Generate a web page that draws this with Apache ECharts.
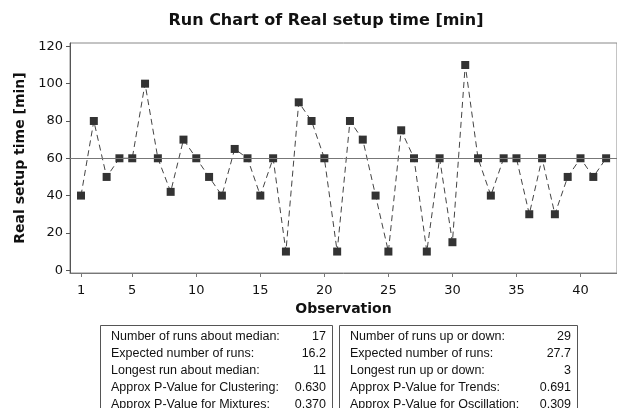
<!DOCTYPE html>
<html><head><meta charset="utf-8">
<script src="https://cdn.jsdelivr.net/npm/echarts@6/dist/echarts.min.js"></script>
<style>html,body{margin:0;padding:0;background:#fff}#c{width:617px;height:408px}</style>
</head><body><div id="c"></div>
<script>
const observations = [1,2,3,4,5,6,7,8,9,10,11,12,13,14,15,16,17,18,19,20,21,22,23,24,25,26,27,28,29,30,31,32,33,34,35,36,37,38,39,40,41,42];
const setupTime = [40,80,50,60,60,100,60,42,70,60,50,40,65,60,40,60,10,90,80,60,10,80,70,40,10,75,60,10,60,15,110,60,40,60,60,30,60,30,50,60,50,60];
const medianValue = 60;
const xTicks = [1,5,10,15,20,25,30,35,40];
const yTicks = [0,20,40,60,80,100,120];
const leftStatsLabels = ["Number of runs about median:","Expected number of runs:","Longest run about median:","Approx P-Value for Clustering:","Approx P-Value for Mixtures:"];
const leftStatsValues = ["17","16.2","11","0.630","0.370"];
const rightStatsLabels = ["Number of runs up or down:","Expected number of runs:","Longest run up or down:","Approx P-Value for Trends:","Approx P-Value for Oscillation:"];
const rightStatsValues = ["29","27.7","3","0.691","0.309"];

const chart = echarts.init(document.getElementById('c'), null, {renderer:'canvas'});
const FONT = 'DejaVu Sans';
const BOXFONT = 'Liberation Sans';

function statsBox(x, w, labels, values) {
  const els = [{type:'rect', shape:{x:x+0.5, y:325.5, width:w, height:100}, style:{fill:'#fff', stroke:'#555', lineWidth:1}}];
  labels.forEach((t,i)=>{
    els.push({type:'text', x:x+11, y:336.5+i*17, style:{text:t, font:'12.5px '+BOXFONT, fill:'#111', textVerticalAlign:'middle', textAlign:'left'}});
    els.push({type:'text', x:x+w-6, y:336.5+i*17, style:{text:values[i], font:'12.5px '+BOXFONT, fill:'#111', textVerticalAlign:'middle', textAlign:'right'}});
  });
  return els;
}

chart.setOption({
  animation:false,
  backgroundColor:'#fff',
  title:{text:'Run Chart of Real setup time [min]', left:321, top:8, textAlign:'center',
    textStyle:{fontFamily:FONT, fontWeight:'bold', fontSize:16, color:'#111'}},
  grid:{left:70, right:-2, top:43, bottom:135, show:true, borderColor:'#888', borderWidth:1},
  xAxis:{type:'value', min:0.14, max:42.85,
    name:'Observation', nameLocation:'middle', nameGap:29,
    nameTextStyle:{fontFamily:FONT, fontWeight:'bold', fontSize:14, color:'#111'},
    axisLine:{show:true, onZero:false, lineStyle:{color:'#777'}},
    axisTick:{show:true, length:4, customValues:xTicks, lineStyle:{color:'#777'}},
    axisLabel:{customValues:xTicks, fontFamily:FONT, fontSize:13, color:'#111', margin:11},
    splitLine:{show:false}},
  yAxis:{type:'value', min:-1.5, max:121.8,
    name:'Real setup time [min]', nameLocation:'middle', nameGap:37,
    nameTextStyle:{fontFamily:FONT, fontWeight:'bold', fontSize:14, color:'#111'},
    axisLine:{show:true, lineStyle:{color:'#555'}},
    axisTick:{show:true, length:4, customValues:yTicks, lineStyle:{color:'#555'}},
    axisLabel:{customValues:yTicks, fontFamily:FONT, fontSize:13, color:'#111', margin:7},
    splitLine:{show:false}},
  series:[{
    type:'line',
    data:observations.map((o,i)=>[o, setupTime[i]]),
    symbol:'rect', symbolSize:8,
    itemStyle:{color:'#333'},
    lineStyle:{color:'#444', width:1, type:[6,4]},
    markLine:{silent:true, symbol:'none', label:{show:false},
      lineStyle:{color:'#777', width:1, type:'solid'},
      data:[{yAxis:medianValue}]}
  }],
  graphic:[...statsBox(100, 232, leftStatsLabels, leftStatsValues), ...statsBox(339, 238, rightStatsLabels, rightStatsValues)]
});
</script></body></html>
